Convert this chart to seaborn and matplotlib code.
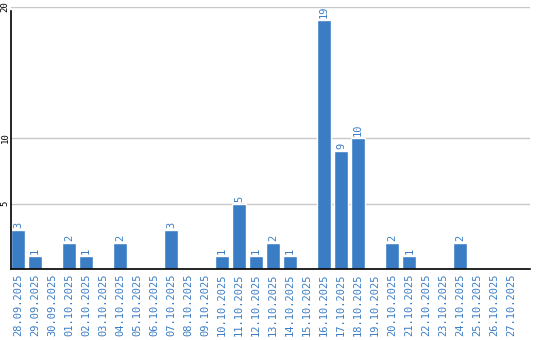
import matplotlib
matplotlib.use("Agg")
import matplotlib.pyplot as plt
import seaborn as sns
import pandas as pd

dates = ["28.09.2025", "29.09.2025", "30.09.2025", "01.10.2025", "02.10.2025",
         "03.10.2025", "04.10.2025", "05.10.2025", "06.10.2025", "07.10.2025",
         "08.10.2025", "09.10.2025", "10.10.2025", "11.10.2025", "12.10.2025",
         "13.10.2025", "14.10.2025", "15.10.2025", "16.10.2025", "17.10.2025",
         "18.10.2025", "19.10.2025", "20.10.2025", "21.10.2025", "22.10.2025",
         "23.10.2025", "24.10.2025", "25.10.2025", "26.10.2025", "27.10.2025"]
counts = [3, 1, 0, 2, 1, 0, 2, 0, 0, 3, 0, 0, 1, 5, 1, 2, 1, 0, 19, 9, 10, 0,
          2, 1, 0, 0, 2, 0, 0, 0]
yticks = [5, 10, 20]

sns.set_style("white")
plt.rcParams["font.family"] = ["DejaVu Sans Mono"]

blue = "#3b7dc4"
df = pd.DataFrame({"date": dates, "count": counts})

fig = plt.figure(figsize=(5.4, 3.4), dpi=100)
ax = fig.add_axes([11 / 540, 71 / 340, 519 / 540, 262 / 340])
sns.barplot(data=df, x="date", y="count", color=blue, saturation=1,
            width=0.82, ax=ax, order=dates)

ax.set_ylim(0, 20)
ax.set_xlim(-0.41, 30.1)
ax.set_yticks(yticks)
ax.set_yticklabels([str(v) for v in yticks], rotation=90, va="center",
                   fontsize=6.5)
ax.yaxis.grid(True, color="#c8c8c8", linewidth=1)
ax.set_axisbelow(True)
ax.tick_params(axis="both", length=0)
ax.tick_params(axis="y", pad=1, colors="black")
ax.tick_params(axis="x", colors=blue, labelsize=7.5, rotation=90, pad=3)
for lbl in ax.get_xticklabels():
    lbl.set_color(blue)
ax.set_xlabel("")
ax.set_ylabel("")
for s in ["top", "right"]:
    ax.spines[s].set_visible(False)
ax.spines["left"].set_color("black")
ax.spines["bottom"].set_color("black")
ax.spines["left"].set_linewidth(1.2)
ax.spines["bottom"].set_linewidth(1.2)
ax.spines["left"].set_bounds(0, 19.7)

for i, v in enumerate(counts):
    if v > 0:
        ax.text(i, v + 0.15, str(v), rotation=90, ha="center", va="bottom",
                color=blue, fontsize=7.5)

fig.savefig("out.png", dpi=100)
